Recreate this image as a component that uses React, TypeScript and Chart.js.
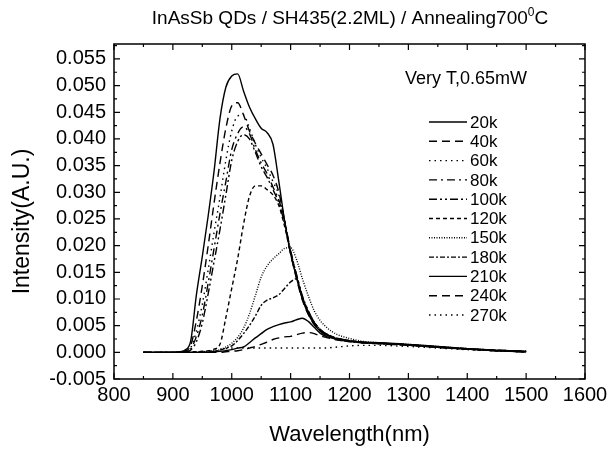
import React, { useEffect, useRef } from "react";
import { Chart, registerables } from "chart.js";

Chart.register(...registerables);

const TITLE_MAIN = "InAsSb QDs / SH435(2.2ML) / Annealing700";
const TITLE_SUP = "0";
const TITLE_END = "C";
const LEGEND_HEADER = "Very T,0.65mW";
const X_TITLE = "Wavelength(nm)";
const Y_TITLE = "Intensity(A.U.)";

const X_TICKS = [800, 900, 1000, 1100, 1200, 1300, 1400, 1500, 1600];
const Y_TICKS = [-0.005, 0, 0.005, 0.01, 0.015, 0.02, 0.025, 0.03, 0.035, 0.04, 0.045, 0.05, 0.055];

const WAVELENGTH = [
  850, 880, 900, 910, 920, 930, 940, 950, 960, 970, 980, 990, 1000, 1010, 1020, 1030, 1040, 1050, 1060, 1070,
  1080, 1090, 1100, 1110, 1120, 1130, 1140, 1150, 1160, 1170, 1180, 1200, 1220, 1250, 1300, 1350, 1400, 1450, 1500,
];

const I_20K = [
  0, 0, 0, 0.0001, 0.0004, 0.002, 0.0108, 0.018, 0.0256, 0.034, 0.0438, 0.0497, 0.0518, 0.0522, 0.049, 0.046, 0.0438, 0.042, 0.0412, 0.039,
  0.032, 0.0245, 0.0185, 0.014, 0.01, 0.0072, 0.0053, 0.004, 0.0033, 0.0028, 0.0025, 0.0021, 0.0019, 0.0018, 0.0015, 0.0011, 0.0007, 0.0004, 0.0002,
];
const I_40K = [
  0, 0, 0, 0, 0.0002, 0.0012, 0.006, 0.0125, 0.02, 0.028, 0.0355, 0.042, 0.0462, 0.0468, 0.0445, 0.0415, 0.0392, 0.0372, 0.0352, 0.0332,
  0.03, 0.0245, 0.0185, 0.0138, 0.0098, 0.0071, 0.0052, 0.004, 0.0032, 0.0027, 0.0024, 0.002, 0.0018, 0.0017, 0.0014, 0.001, 0.0007, 0.0004, 0.0002,
];
const I_60K = [
  0, 0, 0, 0, 0.0001, 0.0008, 0.004, 0.009, 0.0155, 0.0225, 0.029, 0.036, 0.0415, 0.0443, 0.0445, 0.042, 0.039, 0.0365, 0.0345, 0.032,
  0.0295, 0.0245, 0.019, 0.0142, 0.0102, 0.0074, 0.0054, 0.0041, 0.0033, 0.0028, 0.0025, 0.0021, 0.0018, 0.0016, 0.0013, 0.001, 0.0007, 0.0004, 0.0002,
];
const I_80K = [
  0, 0, 0, 0, 0, 0.0006, 0.003, 0.007, 0.013, 0.0195, 0.026, 0.032, 0.038, 0.041, 0.0423, 0.041, 0.038, 0.0355, 0.0335, 0.031,
  0.0285, 0.0245, 0.019, 0.0145, 0.0104, 0.0076, 0.0055, 0.0042, 0.0034, 0.0029, 0.0025, 0.0021, 0.0019, 0.0017, 0.0014, 0.001, 0.0006, 0.0003, 0.0001,
];
const I_100K = [
  0, 0, 0, 0, 0, 0.0004, 0.002, 0.0055, 0.011, 0.017, 0.023, 0.0295, 0.036, 0.0395, 0.0408, 0.04, 0.0375, 0.0348, 0.0328, 0.0305,
  0.028, 0.024, 0.019, 0.0146, 0.0106, 0.0078, 0.0057, 0.0043, 0.0035, 0.0029, 0.0026, 0.0022, 0.0019, 0.0017, 0.0014, 0.001, 0.0006, 0.0003, 0.0001,
];
const I_120K = [
  0, 0, 0, 0, 0, 0.0001, 0.0001, 0.0002, 0.0003, 0.0006, 0.0015, 0.0065, 0.012, 0.0175, 0.024, 0.0292, 0.0312, 0.0312, 0.0305, 0.0295,
  0.0275, 0.0235, 0.0185, 0.0142, 0.0104, 0.0077, 0.0057, 0.0043, 0.0035, 0.0029, 0.0026, 0.0022, 0.0019, 0.0017, 0.0014, 0.001, 0.0006, 0.0003, 0.0001,
];
const I_150K = [
  0, 0, 0, 0, 0, 0, 0, 0.0001, 0.0002, 0.0003, 0.0005, 0.001, 0.0017, 0.0028, 0.0045, 0.0072, 0.0106, 0.0141, 0.0162, 0.0175,
  0.0185, 0.0195, 0.0196, 0.0174, 0.0138, 0.0106, 0.0078, 0.006, 0.0048, 0.0039, 0.0033, 0.0026, 0.0021, 0.0018, 0.0015, 0.0011, 0.0007, 0.0004, 0.0002,
];
const I_180K = [
  0, 0, 0, 0, 0, 0, 0, 0, 0.0001, 0.0002, 0.0004, 0.0008, 0.0012, 0.0022, 0.0035, 0.005, 0.0068, 0.0088, 0.0098, 0.0102,
  0.0108, 0.012, 0.0132, 0.0138, 0.01, 0.0075, 0.0056, 0.0043, 0.0035, 0.003, 0.0026, 0.0022, 0.0019, 0.0017, 0.0014, 0.001, 0.0006, 0.0003, 0.0001,
];
const I_210K = [
  0, 0, 0, 0, 0, 0, 0, 0, 0, 0.0001, 0.0002, 0.0003, 0.0005, 0.0008, 0.001, 0.0018, 0.0027, 0.0035, 0.0043, 0.0048,
  0.0052, 0.0055, 0.0057, 0.0061, 0.0064, 0.0058, 0.0047, 0.0036, 0.003, 0.0027, 0.0024, 0.0021, 0.0019, 0.0017, 0.0014, 0.001, 0.0006, 0.0003, 0.0001,
];
const I_240K = [
  0, 0, 0, 0, 0, 0, 0, 0, 0, 0, 0, 0.0001, 0.0002, 0.0003, 0.0005, 0.0008, 0.0011, 0.0015, 0.0019, 0.0024,
  0.0027, 0.0029, 0.003, 0.0033, 0.0036, 0.0037, 0.0035, 0.0031, 0.0028, 0.0025, 0.0023, 0.002, 0.0018, 0.0016, 0.0013, 0.0009, 0.0006, 0.0003, 0.0001,
];
const I_270K = [
  0, 0, 0, 0, 0, 0, 0, 0.0001, 0.0002, 0.0004, 0.0006, 0.0007, 0.0008, 0.0008, 0.0008, 0.0008, 0.0008, 0.0008, 0.0008, 0.0008,
  0.0008, 0.0008, 0.0008, 0.0008, 0.0008, 0.0008, 0.0008, 0.0008, 0.0008, 0.0009, 0.001, 0.0012, 0.0013, 0.0013, 0.0011, 0.0008, 0.0005, 0.0003, 0.0001,
];

const SERIES_LABELS = ["20k", "40k", "60k", "80k", "100k", "120k", "150k", "180k", "210k", "240k", "270k"];
const SERIES_VALUES = [I_20K, I_40K, I_60K, I_80K, I_100K, I_120K, I_150K, I_180K, I_210K, I_240K, I_270K];
const SERIES_DASHES: number[][] = [
  [],
  [8, 5],
  [1.5, 4],
  [8, 4, 2, 4],
  [8, 3, 2, 3, 2, 3],
  [4, 3],
  [1, 1.5],
  [5, 2, 2, 2],
  [],
  [8, 5],
  [1.5, 4],
];

const FONT = "'Liberation Sans', Arial, Helvetica, sans-serif";

const textPlugin = {
  id: "customText",
  afterDraw(chart: any) {
    const { ctx, chartArea: a, scales } = chart;
    const x = scales.x;
    const y = scales.y;
    ctx.save();
    ctx.strokeStyle = "#000";
    ctx.fillStyle = "#000";
    // frame
    ctx.lineWidth = 1.5;
    ctx.strokeRect(a.left, a.top, a.right - a.left, a.bottom - a.top);
    // inward ticks
    ctx.lineWidth = 1.2;
    ctx.beginPath();
    for (let i = 0; i < X_TICKS.length; i++) {
      const v = X_TICKS[i];
      const px = x.getPixelForValue(v);
      ctx.moveTo(px, a.bottom);
      ctx.lineTo(px, a.bottom - 6);
      ctx.moveTo(px, a.top);
      ctx.lineTo(px, a.top + 6);
      if (i < X_TICKS.length - 1) {
        const m = x.getPixelForValue((v + X_TICKS[i + 1]) / 2);
        ctx.moveTo(m, a.bottom);
        ctx.lineTo(m, a.bottom - 3);
        ctx.moveTo(m, a.top);
        ctx.lineTo(m, a.top + 3);
      }
    }
    const yVals = [...Y_TICKS, Y_TICKS[Y_TICKS.length - 1] + 0.005];
    for (let i = 0; i < yVals.length; i++) {
      const v = yVals[i];
      const py = y.getPixelForValue(v);
      if (i < Y_TICKS.length) {
        ctx.moveTo(a.left, py);
        ctx.lineTo(a.left + 6, py);
        ctx.moveTo(a.right, py);
        ctx.lineTo(a.right - 6, py);
      }
      if (i < yVals.length - 1) {
        const m = y.getPixelForValue((v + yVals[i + 1]) / 2);
        if (m >= a.top) {
          ctx.moveTo(a.left, m);
          ctx.lineTo(a.left + 3, m);
          ctx.moveTo(a.right, m);
          ctx.lineTo(a.right - 3, m);
        }
      }
    }
    ctx.stroke();

    // title
    ctx.textBaseline = "alphabetic";
    ctx.textAlign = "left";
    ctx.font = `19px ${FONT}`;
    const wMain = ctx.measureText(TITLE_MAIN).width;
    const wEnd = ctx.measureText(TITLE_END).width;
    ctx.font = `12px ${FONT}`;
    const wSup = ctx.measureText(TITLE_SUP).width;
    const total = wMain + wSup + wEnd;
    const tx = 350 - total / 2;
    const ty = 24;
    ctx.font = `19px ${FONT}`;
    ctx.fillText(TITLE_MAIN, tx, ty);
    ctx.font = `12px ${FONT}`;
    ctx.fillText(TITLE_SUP, tx + wMain, ty - 8);
    ctx.font = `19px ${FONT}`;
    ctx.fillText(TITLE_END, tx + wMain + wSup, ty);

    // axis titles
    ctx.font = `22px ${FONT}`;
    ctx.textAlign = "center";
    ctx.textBaseline = "middle";
    ctx.fillText(X_TITLE, (a.left + a.right) / 2, 435);
    ctx.save();
    ctx.font = `23px ${FONT}`;
    ctx.translate(23, (a.top + a.bottom) / 2 + 10);
    ctx.rotate(-Math.PI / 2);
    ctx.fillText(Y_TITLE, 0, 0);
    ctx.restore();

    // legend
    ctx.textAlign = "left";
    ctx.textBaseline = "middle";
    ctx.font = `18px ${FONT}`;
    ctx.fillText(LEGEND_HEADER, 405, 79);
    ctx.font = `17px ${FONT}`;
    chart.data.datasets.forEach((ds: any, i: number) => {
      const ly = 122 + i * 19.3;
      ctx.save();
      ctx.lineWidth = 1.4;
      ctx.setLineDash(ds.borderDash || []);
      ctx.beginPath();
      ctx.moveTo(429, ly);
      ctx.lineTo(467, ly);
      ctx.stroke();
      ctx.restore();
      ctx.fillText(ds.label, 470, ly + 1);
    });
    ctx.restore();
  },
};

export default function App() {
  const canvasRef = useRef<HTMLCanvasElement | null>(null);

  useEffect(() => {
    const canvas = canvasRef.current;
    if (!canvas) return;
    const datasets = SERIES_LABELS.map((label, i) => ({
      label,
      data: WAVELENGTH.map((w, j) => ({ x: w, y: SERIES_VALUES[i][j] })),
      borderColor: "#000",
      backgroundColor: "#000",
      borderWidth: 1.4,
      borderDash: SERIES_DASHES[i],
      pointRadius: 0,
      fill: false,
      cubicInterpolationMode: "monotone" as const,
    }));
    const chart = new Chart(canvas, {
      type: "line",
      data: { datasets },
      options: {
        animation: false,
        responsive: false,
        maintainAspectRatio: false,
        layout: { padding: { left: 0, top: 44, right: 27, bottom: 0 } },
        plugins: {
          legend: { display: false },
          title: { display: false },
          tooltip: { enabled: false },
        },
        scales: {
          x: {
            type: "linear",
            min: 800,
            max: 1600,
            grid: { display: false, drawTicks: false },
            border: { display: false },
            afterBuildTicks: (s: any) => {
              s.ticks = X_TICKS.map((v) => ({ value: v }));
            },
            afterFit: (s: any) => {
              s.height = 84;
            },
            ticks: {
              color: "#000",
              font: { size: 20, family: FONT },
              padding: 4,
              maxRotation: 0,
              autoSkip: false,
              callback: (v: any) => String(v),
            },
          },
          y: {
            type: "linear",
            min: -0.005,
            max: 0.0578,
            grid: { display: false, drawTicks: false },
            border: { display: false },
            afterBuildTicks: (s: any) => {
              s.ticks = Y_TICKS.map((v) => ({ value: v }));
            },
            afterFit: (s: any) => {
              s.width = 114;
            },
            ticks: {
              color: "#000",
              font: { size: 20, family: FONT },
              padding: 8,
              autoSkip: false,
              callback: (v: any) => Number(v).toFixed(3),
            },
          },
        },
      },
      plugins: [textPlugin],
    });
    return () => chart.destroy();
  }, []);

  return (
    <div style={{ position: "fixed", left: 0, top: 0, width: 612, height: 463, background: "#fff" }}>
      <canvas ref={canvasRef} width={612} height={463} style={{ display: "block" }} />
    </div>
  );
}
